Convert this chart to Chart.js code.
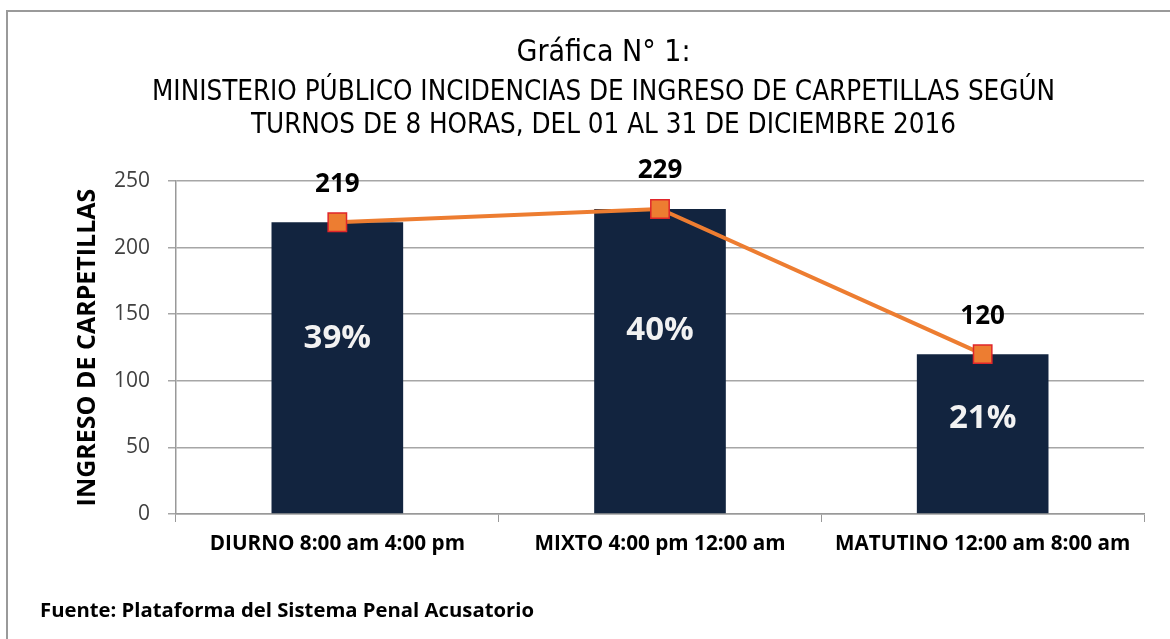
<!DOCTYPE html>
<html>
<head>
<meta charset="utf-8">
<title>Gráfica N° 1</title>
<script src="https://cdn.jsdelivr.net/npm/chart.js@4"></script>
<style>
  body { margin: 0; background: #fff; }
  canvas { display: block; }
</style>
</head>
<body>
<canvas id="myChart" width="1170" height="639"></canvas>
<script>
'use strict';
var categories = ['DIURNO 8:00 am 4:00 pm', 'MIXTO 4:00 pm 12:00 am', 'MATUTINO 12:00 am 8:00 am'];
var ingresos = [219, 229, 120];
var porcentajes = ['39%', '40%', '21%'];
var yTicks = [0, 50, 100, 150, 200, 250];

var narrow = "'Liberation Sans Narrow', 'DejaVu Sans Condensed', 'Arial Narrow', sans-serif";
var body = "'Open Sans', Lato, sans-serif";

// etiquetas de valor, porcentajes, marco y fuente
var labelsPlugin = {
    id: 'labelsPlugin',
    beforeDraw: function(chart) {
        var c = chart.ctx;
        c.save();
        c.strokeStyle = '#9a9a9a';
        c.lineWidth = 2;
        c.beginPath();
        c.moveTo(7, chart.height + 5);
        c.lineTo(7, 11);
        c.lineTo(chart.width + 5, 11);
        c.stroke();
        c.restore();
    },
    afterDatasetsDraw: function(chart) {
        var c = chart.ctx;
        var y = chart.scales.y;
        var barMeta = chart.getDatasetMeta(1);
        var lineMeta = chart.getDatasetMeta(0);
        c.save();
        c.textAlign = 'center';
        c.textBaseline = 'middle';
        barMeta.data.forEach(function(bar, i) {
            c.fillStyle = '#f2f2f2';
            c.font = 'bold 33px ' + body;
            c.fillText(porcentajes[i], bar.x, y.getPixelForValue(ingresos[i] * 0.6));
        });
        lineMeta.data.forEach(function(pt, i) {
            c.fillStyle = '#000';
            c.font = 'bold 26px ' + body;
            c.fillText(String(ingresos[i]), pt.x, pt.y - 38);
        });
        c.textAlign = 'left';
        c.font = 'bold 20.3px ' + body;
        c.fillText('Fuente: Plataforma del Sistema Penal Acusatorio', 40, chart.height - 28);
        c.restore();
    }
};

var ctx = document.getElementById('myChart').getContext('2d');
var myChart = new Chart(ctx, {
    type: 'bar',
    data: {
        labels: categories,
        datasets: [{
            type: 'line',
            label: 'Tendencia',
            data: ingresos,
            order: 0,
            borderColor: '#ed7d31',
            borderWidth: 4,
            fill: false,
            tension: 0,
            pointStyle: 'rect',
            pointRadius: 13,
            pointHoverRadius: 13,
            pointBackgroundColor: '#ed7d31',
            pointBorderColor: '#e0262a',
            pointBorderWidth: 1.5
        }, {
            type: 'bar',
            label: 'Ingreso de carpetillas',
            data: ingresos,
            order: 1,
            backgroundColor: '#12243f',
            borderWidth: 0,
            categoryPercentage: 1,
            barPercentage: 0.408
        }]
    },
    options: {
        responsive: false,
        animation: false,
        layout: {
            padding: { left: 63, right: 26, top: 0, bottom: 75 }
        },
        plugins: {
            legend: { display: false },
            tooltip: { enabled: false },
            title: {
                display: true,
                text: 'Gráfica N° 1:',
                color: '#000',
                font: { family: narrow, size: 30, weight: 'normal', lineHeight: 1.2 },
                padding: { top: 35, bottom: 4 }
            },
            subtitle: {
                display: true,
                text: ['MINISTERIO PÚBLICO INCIDENCIAS DE INGRESO DE CARPETILLAS SEGÚN',
                       'TURNOS DE 8 HORAS, DEL 01 AL 31 DE DICIEMBRE 2016'],
                color: '#000',
                font: { family: narrow, size: 27.5, weight: 'normal', lineHeight: 1.2 },
                padding: { top: 1, bottom: 39 }
            }
        },
        scales: {
            x: {
                grid: {
                    drawOnChartArea: false,
                    drawTicks: true,
                    tickLength: 8,
                    color: '#999'
                },
                border: { display: true, color: '#999', width: 1.5 },
                ticks: {
                    color: '#000',
                    padding: 10,
                    maxRotation: 0,
                    font: { family: body, size: 20.7, weight: 'bold' }
                },
                afterFit: function(scale) { scale.height = 50; }
            },
            y: {
                min: 0,
                max: 250,
                afterBuildTicks: function(scale) {
                    scale.ticks = yTicks.map(function(v) { return { value: v }; });
                },
                grid: { color: '#a6a6a6', lineWidth: 1.5, tickLength: 8 },
                border: { display: true, color: '#999', width: 1.5 },
                ticks: {
                    color: '#404040',
                    padding: 18,
                    font: { family: body, size: 21 }
                },
                title: {
                    display: true,
                    text: 'INGRESO DE CARPETILLAS',
                    color: '#000',
                    font: { family: body, size: 25, weight: 'bold', lineHeight: 1.2 },
                    padding: { top: 10, bottom: 0 }
                },
                afterFit: function(scale) { scale.width = 113; }
            }
        }
    },
    plugins: [labelsPlugin]
});
</script>
</body>
</html>
